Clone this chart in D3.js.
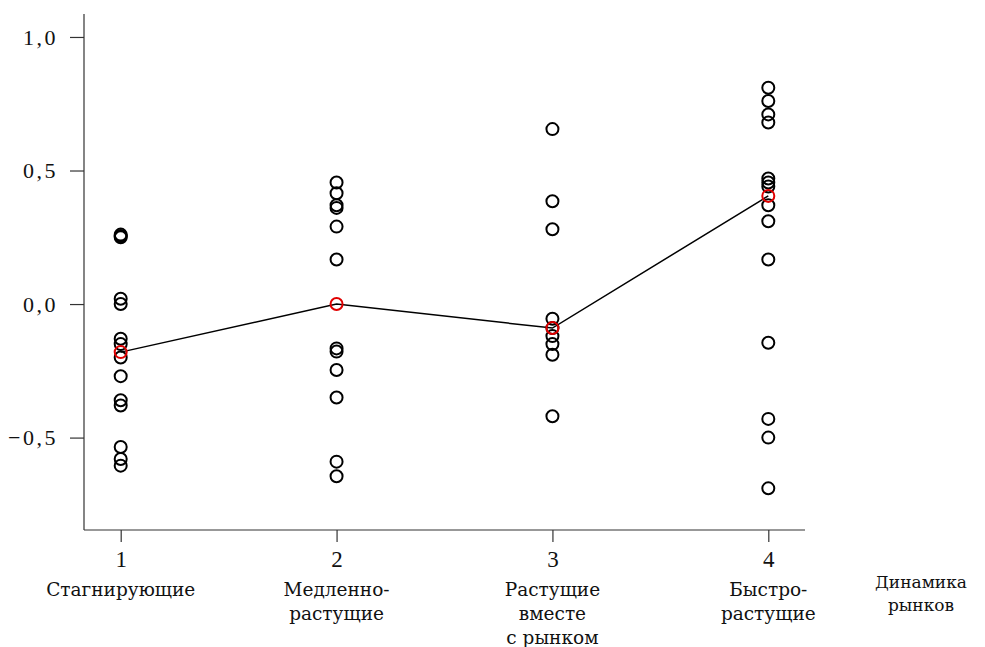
<!DOCTYPE html>
<html>
<head>
<meta charset="utf-8">
<script src="https://cdn.jsdelivr.net/npm/d3@7"></script>
<style>
  body { margin: 0; background: #fff; }
  svg { display: block; }
</style>
</head>
<body>
<svg id="chart"></svg>
<script>
// groups on the x axis
const groups = [1, 2, 3, 4];
const groupLabels = [
  ['Стагнирующие'],
  ['Медленно-', 'растущие'],
  ['Растущие', 'вместе', 'с рынком'],
  ['Быстро-', 'растущие'],
];
const axisTitle = ['Динамика', 'рынков'];

const values1 = [0.26, 0.255, 0.25, 0.02, 0.0, -0.13, -0.15, -0.2, -0.27, -0.36, -0.38, -0.535, -0.58, -0.605];
const values2 = [0.455, 0.415, 0.37, 0.36, 0.29, 0.167, -0.166, -0.178, -0.247, -0.35, -0.59, -0.645];
const values3 = [0.655, 0.385, 0.28, -0.055, -0.09, -0.12, -0.15, -0.19, -0.42];
const values4 = [0.81, 0.76, 0.71, 0.68, 0.47, 0.455, 0.44, 0.37, 0.31, 0.167, -0.145, -0.43, -0.5, -0.69];

// group medians (red circles joined by the line)
const medians = [-0.18, 0.0, -0.09, 0.405];

const yTicks = [-0.5, 0, 0.5, 1.0];

const width = 985, height = 647;
const margin = { top: 14, right: 180, bottom: 117, left: 84 };

const svg = d3.select('#chart').attr('width', width).attr('height', height);

const x = d3.scaleLinear()
  .domain([0.83, 4.17])
  .range([margin.left, width - margin.right]);

const y = d3.scaleLinear()
  .domain([-0.846, 1.086])
  .range([height - margin.bottom, margin.top]);

const fmt = v => (v < 0 ? '\u2212' : '') + d3.format('.1f')(Math.abs(v)).replace('.', ',');
const serif = '"Liberation Serif", "Times New Roman", serif';
const labelFont = '"DejaVu Serif", serif';

// y axis
const yAxis = svg.append('g')
  .attr('transform', `translate(${margin.left},0)`)
  .call(d3.axisLeft(y).tickValues(yTicks).tickSize(14).tickPadding(12).tickFormat(fmt));
yAxis.select('.domain').attr('d', `M0,${y.range()[1]}V${y.range()[0]}`);
yAxis.selectAll('path, line').attr('stroke', '#333').attr('stroke-width', 1.2);
yAxis.selectAll('text')
  .style('font-family', serif)
  .style('font-size', '22px')
  .attr('letter-spacing', 2.5)
  .attr('fill', '#111');

// x axis
const xAxis = svg.append('g')
  .attr('transform', `translate(0,${height - margin.bottom})`)
  .call(d3.axisBottom(x).tickValues(groups).tickSize(12).tickPadding(9).tickFormat(d3.format('d')));
xAxis.select('.domain').attr('d', `M${x.range()[0]},0H${x.range()[1]}`);
xAxis.selectAll('path, line').attr('stroke', '#333').attr('stroke-width', 1.2);
xAxis.selectAll('text')
  .style('font-family', serif)
  .style('font-size', '23px')
  .attr('fill', '#111');

// category labels under tick numbers
groupLabels.forEach((lines, i) => {
  const t = svg.append('text')
    .attr('x', x(groups[i]))
    .attr('y', 596)
    .attr('text-anchor', 'middle')
    .style('font-family', labelFont)
    .style('font-size', '18.5px')
    .attr('fill', '#111');
  lines.forEach((l, j) => t.append('tspan').attr('x', x(groups[i])).attr('dy', j ? 24 : 0).text(l));
});

const title = svg.append('text')
  .attr('x', 921)
  .attr('y', 588)
  .attr('text-anchor', 'middle')
  .style('font-family', labelFont)
  .style('font-size', '17px')
  .attr('fill', '#111');
axisTitle.forEach((l, j) => title.append('tspan').attr('x', 921).attr('dy', j ? 23 : 0).text(l));

// observations
const series = [values1, values2, values3, values4];
const points = series.flatMap((vals, i) => vals.map(v => ({ g: groups[i], v })));

svg.append('g')
  .selectAll('circle')
  .data(points)
  .join('circle')
  .attr('cx', d => x(d.g))
  .attr('cy', d => y(d.v))
  .attr('r', 6)
  .attr('fill', 'none')
  .attr('stroke', '#000')
  .attr('stroke-width', 2);

// median line
const medianData = groups.map((g, i) => ({ g, v: medians[i] }));
svg.append('path')
  .datum(medianData)
  .attr('fill', 'none')
  .attr('stroke', '#000')
  .attr('stroke-width', 1.5)
  .attr('d', d3.line().x(d => x(d.g)).y(d => y(d.v)));

svg.append('g')
  .selectAll('circle')
  .data(medianData)
  .join('circle')
  .attr('cx', d => x(d.g))
  .attr('cy', d => y(d.v))
  .attr('r', 6)
  .attr('fill', 'none')
  .attr('stroke', '#e00000')
  .attr('stroke-width', 2);
</script>
</body>
</html>
